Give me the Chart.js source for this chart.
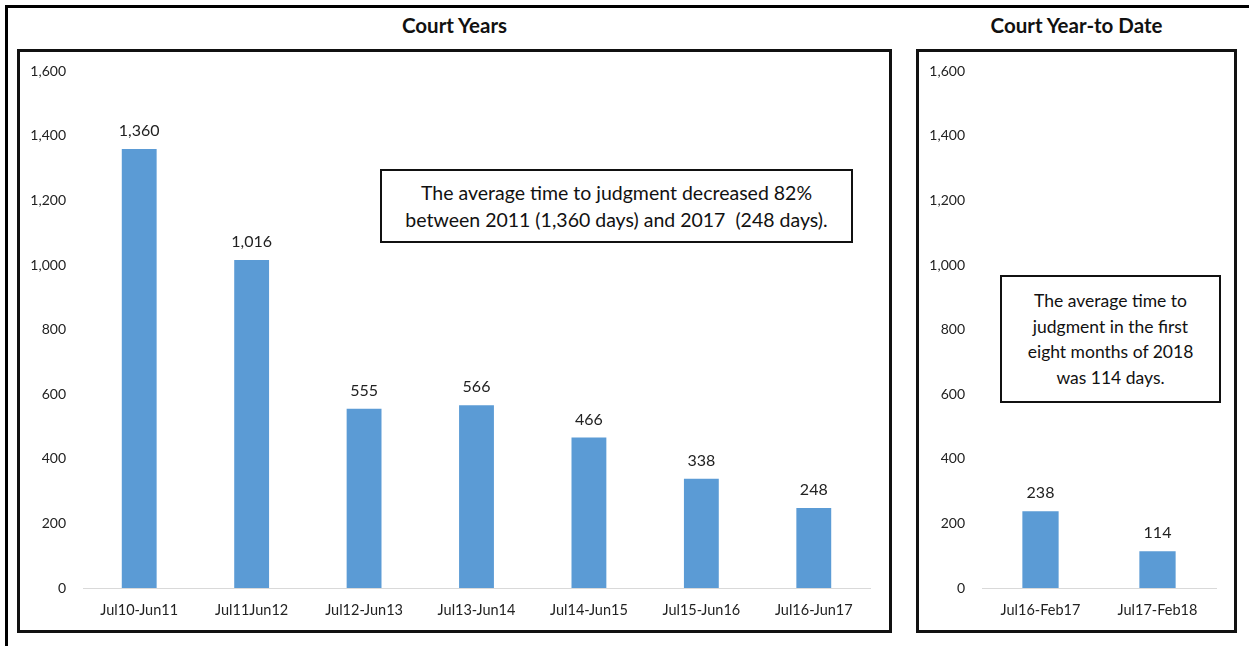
<!DOCTYPE html>
<html>
<head>
<meta charset="utf-8">
<script src="https://cdn.jsdelivr.net/npm/chart.js@4/dist/chart.umd.min.js"></script>
<style>
  html, body { margin:0; padding:0; background:#fff; width:1249px; height:646px; overflow:hidden; font-family: Lato, "Liberation Sans", sans-serif; }
  .abs { position:absolute; box-sizing:border-box; }
  .frame { left:5px; top:5px; width:1260px; height:700px; border-top:3px solid #000; border-left:3px solid #000; }
  .box { border:3px solid #111; }
  .title { font-weight:bold; font-size:20.5px; color:#111; text-align:center; }
  .note { border:2px solid #111; background:#fff; color:#111; text-align:center; display:flex; align-items:center; justify-content:center; }
</style>
</head>
<body>
<div class="abs frame"></div>
<div class="abs title" style="left:17px; top:12px; width:875px; line-height:26px;">Court Years</div>
<div class="abs title" style="left:916px; top:12px; width:321px; line-height:26px;">Court Year-to Date</div>
<div class="abs box" style="left:17px; top:49px; width:875px; height:584px;"></div>
<div class="abs box" style="left:916px; top:49px; width:321px; height:584px;"></div>
<div class="abs" style="left:20px; top:46px; width:868px; height:584px;"><canvas id="c1"></canvas></div>
<div class="abs" style="left:919px; top:46px; width:315px; height:584px;"><canvas id="c2"></canvas></div>
<div class="abs note" style="left:380px; top:169px; width:473px; height:74px; line-height:27px; font-size:19.5px;">The average time to judgment decreased 82%<br>between 2011 (1,360 days) and 2017&nbsp; (248 days).</div>
<div class="abs note" style="left:1000px; top:275px; width:221px; height:128px; line-height:25.5px; font-size:17.5px;">The average time to<br>judgment in the first<br>eight months of 2018<br>was 114 days.</div>
<script>
const yearCategories = ["Jul10-Jun11", "Jul11Jun12", "Jul12-Jun13", "Jul13-Jun14", "Jul14-Jun15", "Jul15-Jun16", "Jul16-Jun17"];
const yearValues = [1360, 1016, 555, 566, 466, 338, 248];
const ytdCategories = ["Jul16-Feb17", "Jul17-Feb18"];
const ytdValues = [238, 114];
const yTicks = [0, 200, 400, 600, 800, 1000, 1200, 1400, 1600];

const FONT = "Lato, 'Liberation Sans', sans-serif";
const TEXT = "#222";
const BAR = "#5B9BD5";

const labelPlugin = {
  id: 'barLabels',
  afterDatasetsDraw(chart) {
    const ctx = chart.ctx;
    ctx.save();
    ctx.font = "16px " + FONT;
    ctx.fillStyle = TEXT;
    ctx.textAlign = "center";
    ctx.textBaseline = "middle";
    chart.data.datasets.forEach((ds, i) => {
      chart.getDatasetMeta(i).data.forEach((el, j) => {
        ctx.fillText(ds.data[j].toLocaleString('en-US'), el.x, el.y - 18);
      });
    });
    ctx.restore();
  }
};

function makeChart(id, cats, vals, rightPad) {
  return new Chart(document.getElementById(id), {
    type: 'bar',
    data: { labels: cats, datasets: [{ data: vals, backgroundColor: BAR, borderWidth: 0, categoryPercentage: 1, barPercentage: 0.31 }] },
    options: {
      responsive: true, maintainAspectRatio: false, animation: false,
      layout: { padding: { left: 0, top: 14, right: rightPad, bottom: 0 } },
      plugins: { legend: { display: false }, tooltip: { enabled: false } },
      scales: {
        x: {
          grid: { display: false, drawTicks: false },
          border: { display: true, color: "#d9d9d9", width: 1 },
          ticks: { color: TEXT, font: { family: FONT, size: 14.5 }, padding: 14, maxRotation: 0, autoSkip: false },
          afterFit(s) { s.height = 42; }
        },
        y: {
          min: 0, max: 1600,
          afterBuildTicks(s) { s.ticks = yTicks.map(v => ({ value: v })); },
          grid: { display: false, drawTicks: false },
          border: { display: false },
          ticks: { color: TEXT, font: { family: FONT, size: 14 }, padding: 17, callback: v => v.toLocaleString('en-US') },
          afterFit(s) { s.width = 63; }
        }
      }
    },
    plugins: [labelPlugin]
  });
}
makeChart('c1', yearCategories, yearValues, 18);
makeChart('c2', ytdCategories, ytdValues, 18);
</script>
</body>
</html>
